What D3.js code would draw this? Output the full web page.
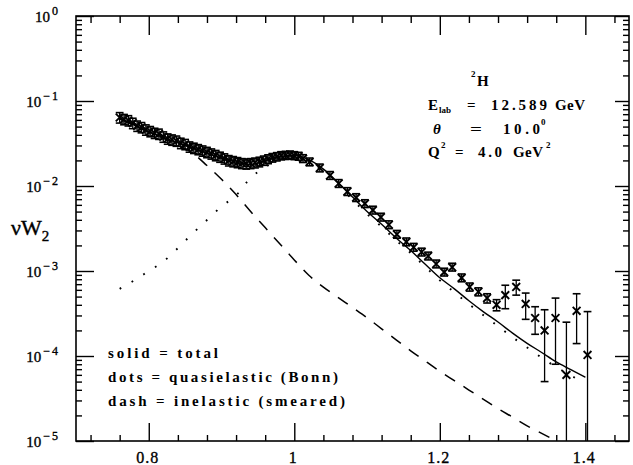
<!DOCTYPE html>
<html>
<head>
<meta charset="utf-8">
<script src="https://cdn.jsdelivr.net/npm/d3@7"></script>
<style>
  html, body { margin: 0; padding: 0; background: #fff; }
  svg { display: block; }
  svg text { font-family: "Liberation Serif", "DejaVu Serif", "Times New Roman", Times, serif; }
</style>
</head>
<body>
<svg id="chart" width="633" height="465"></svg>
<script>
// data points (x, nuW2, error)
const xData = [0.760,0.766,0.772,0.778,0.784,0.790,0.796,0.802,0.808,0.814,0.820,0.826,0.832,0.838,0.844,0.850,0.856,0.862,0.868,0.874,
  0.880,0.886,0.892,0.898,0.904,0.910,0.916,0.922,0.928,0.934,0.940,0.946,0.952,0.958,0.964,0.970,0.976,0.982,0.988,0.994,
  1.000,1.006,1.012,1.021,1.035,1.049,1.061,1.073,1.085,1.097,1.108,1.119,1.130,1.141,1.154,1.164,1.175,1.184,1.195,1.206,
  1.217,1.230,1.241,1.253,1.265,1.278,1.290,1.305,1.318,1.331,1.344,1.359,1.374,1.388,1.403];
const yData = [0.064,0.061,0.059,0.055,0.051,0.049,0.046,0.044,0.042,0.041,0.038,0.036,0.035,0.034,0.032,0.031,0.029,0.028,0.027,0.026,
  0.025,0.024,0.023,0.022,0.021,0.020,0.0195,0.019,0.0185,0.0183,0.0185,0.0188,0.0193,0.020,0.0208,0.0216,0.0222,0.0228,0.023,0.0232,
  0.0228,0.0224,0.021,0.0192,0.0163,0.0133,0.0107,0.0086,0.0073,0.0062,0.0052,0.0043,0.0035,0.0027,0.0022,0.0019,0.00167,0.0015,0.00121,0.00097,
  0.00111,0.00083,0.00065,0.00057,0.00048,0.00040,0.00052,0.00065,0.00041,0.00028,0.00020,0.00028,0.00006,0.00034,0.000103];
const yErr = [0.009,0.0085,0.0082,0.0077,0.0071,0.0068,0.0064,0.0061,0.0058,0.0057,0.0053,0.005,0.0049,0.0047,0.0045,0.0043,0.004,0.0039,0.0037,0.0036,
  0.0035,0.0033,0.0032,0.003,0.0029,0.0028,0.0027,0.0026,0.0025,0.0025,0.0025,0.0025,0.0025,0.0025,0.0025,0.0025,0.0025,0.0025,0.0025,0.0025,
  0.0024,0.0023,0.0021,0.0015,0.0013,0.0011,0.0009,0.0007,0.0006,0.0005,0.00042,0.00035,0.00028,0.00022,0.00018,0.00016,0.00014,0.00013,0.00011,0.00009,
  0.0001,0.00008,0.00007,0.00006,0.00006,0.00006,0.00016,0.00013,0.00014,0.0001,0.00015,0.0002,0.00019,0.0002,0.00023];

// model curves
const curveX = [0.76,0.78,0.80,0.82,0.84,0.86,0.88,0.90,0.92,0.94,0.96,0.98,1.00,1.02,1.04,1.06,1.08,
  1.10,1.12,1.14,1.16,1.18,1.20,1.22,1.24,1.26,1.28,1.30,1.32,1.34,1.36,1.38,1.40];
const totalY = [6.31e-2,5.25e-2,4.37e-2,3.72e-2,3.24e-2,2.82e-2,2.45e-2,2.14e-2,1.91e-2,1.80e-2,2.0e-2,2.24e-2,2.29e-2,2.04e-2,1.58e-2,1.10e-2,7.41e-3,
  5.01e-3,3.55e-3,2.45e-3,1.74e-3,1.20e-3,8.32e-4,6.17e-4,4.47e-4,3.31e-4,2.51e-4,1.86e-4,1.41e-4,1.10e-4,8.51e-5,6.92e-5,5.62e-5];
const quasiY = [6.17e-4,7.76e-4,1.0e-3,1.29e-3,1.86e-3,2.75e-3,3.98e-3,5.75e-3,7.76e-3,1.25e-2,1.66e-2,2.09e-2,2.19e-2,1.91e-2,1.48e-2,1.02e-2,6.92e-3,
  4.68e-3,3.31e-3,2.29e-3,1.62e-3,1.12e-3,7.76e-4,5.62e-4,4.07e-4,3.02e-4,2.24e-4,1.66e-4,1.26e-4,9.55e-5,7.41e-5,5.89e-5,4.79e-5];
const inelY = [6.17e-2,5.13e-2,4.27e-2,3.63e-2,3.02e-2,2.45e-2,1.74e-2,1.20e-2,7.94e-3,5.01e-3,3.24e-3,2.09e-3,1.35e-3,8.91e-4,6.46e-4,4.90e-4,3.72e-4,
  2.82e-4,2.09e-4,1.55e-4,1.15e-4,8.71e-5,6.61e-5,5.13e-5,3.98e-5,3.09e-5,2.40e-5,1.91e-5,1.51e-5,1.23e-5,1.0e-5];

// axes ticks and labels
const xMajor = [0.8, 1.0, 1.2, 1.4];
const xLabels = ["0.8", "1", "1.2", "1.4"];
const xMinor = [0.72,0.76,0.84,0.88,0.92,0.96,1.04,1.08,1.12,1.16,1.24,1.28,1.32,1.36,1.44];
const yMajor = [1e-5, 1e-4, 1e-3, 1e-2, 1e-1, 1];
const yExp = ["\u22125", "\u22124", "\u22123", "\u22122", "\u22121", "0"];

const legendLines = ["solid = total", "dots = quasielastic (Bonn)", "dash = inelastic (smeared)"];

const plot = {left: 76, right: 629, top: 16, bottom: 441};

const svg = d3.select("#chart");
svg.append("rect").attr("width", 633).attr("height", 465).attr("fill", "#fff");

const x = d3.scaleLinear().domain([0.7, 1.46]).range([plot.left, plot.right]);
const y = d3.scaleLog().domain([1e-5, 1]).range([plot.bottom, plot.top]);
const yMinor = y.ticks().filter(v => Math.abs(Math.log10(v) - Math.round(Math.log10(v))) > 1e-6);

svg.append("defs").append("clipPath").attr("id", "clip")
    .append("rect")
    .attr("x", plot.left).attr("y", plot.top)
    .attr("width", plot.right - plot.left).attr("height", plot.bottom - plot.top);

// ticks, all pointing inward
const tickStyle = g => g.call(g => g.select(".domain").remove())
    .call(g => g.selectAll(".tick line").attr("stroke", "#000").attr("stroke-width", 1.4))
    .call(g => g.selectAll(".tick text").remove());

const axes = svg.append("g");
axes.append("g").attr("transform", `translate(0,${plot.bottom})`)
    .call(d3.axisBottom(x).tickValues(xMinor).tickSize(-6).tickSizeOuter(0)).call(tickStyle);
axes.append("g").attr("transform", `translate(0,${plot.bottom})`)
    .call(d3.axisBottom(x).tickValues(xMajor).tickSize(-18).tickSizeOuter(0)).call(tickStyle);
axes.append("g").attr("transform", `translate(0,${plot.top})`)
    .call(d3.axisTop(x).tickValues(xMinor).tickSize(-7).tickSizeOuter(0)).call(tickStyle);
axes.append("g").attr("transform", `translate(0,${plot.top})`)
    .call(d3.axisTop(x).tickValues(xMajor).tickSize(-19).tickSizeOuter(0)).call(tickStyle);
axes.append("g").attr("transform", `translate(${plot.left},0)`)
    .call(d3.axisLeft(y).tickValues(yMinor).tickSize(-6).tickSizeOuter(0)).call(tickStyle);
axes.append("g").attr("transform", `translate(${plot.left},0)`)
    .call(d3.axisLeft(y).tickValues(yMajor).tickSize(-18).tickSizeOuter(0)).call(tickStyle);
axes.append("g").attr("transform", `translate(${plot.right},0)`)
    .call(d3.axisRight(y).tickValues(yMinor).tickSize(-6).tickSizeOuter(0)).call(tickStyle);
axes.append("g").attr("transform", `translate(${plot.right},0)`)
    .call(d3.axisRight(y).tickValues(yMajor).tickSize(-14).tickSizeOuter(0)).call(tickStyle);

svg.append("rect")
    .attr("x", plot.left).attr("y", plot.top)
    .attr("width", plot.right - plot.left).attr("height", plot.bottom - plot.top)
    .attr("fill", "none").attr("stroke", "#000").attr("stroke-width", 1.6);

// tick labels
svg.append("g").selectAll("text")
    .data(xMajor)
    .join("text")
    .attr("x", d => x(d) - 1)
    .attr("y", 463)
    .attr("text-anchor", "middle")
    .attr("font-size", 16)
    .attr("letter-spacing", 1)
    .attr("stroke", "#000").attr("stroke-width", 0.35)
    .text((d, i) => xLabels[i]);

const yl = svg.append("g").attr("stroke", "#000").attr("stroke-width", 0.35);
yMajor.forEach((v, i) => {
    const t = yl.append("text")
        .attr("x", 60).attr("y", y(v) + 6)
        .attr("text-anchor", "end").attr("font-size", 15);
    t.append("tspan").text("10");
    t.append("tspan").attr("dx", 2).attr("dy", -7).attr("font-size", 12)
        .attr("letter-spacing", 2).text(yExp[i]);
});

// y axis title
const yt = svg.append("text").attr("x", 11).attr("y", 235)
    .attr("font-size", 22)
    .attr("stroke", "#000").attr("stroke-width", 0.4);
yt.append("tspan").text("\u03BDW");
yt.append("tspan").attr("dy", 6).attr("font-size", 15).text("2");

// curves
const line = d3.line()
    .x(d => x(d[0]))
    .y(d => y(d[1]))
    .curve(d3.curveMonotoneX);

const curves = svg.append("g").attr("clip-path", "url(#clip)").attr("fill", "none").attr("stroke", "#000");
curves.append("path")
    .attr("d", line(curveX.map((cx, i) => [cx, quasiY[i]])))
    .attr("stroke-width", 1.9)
    .attr("stroke-dasharray", "1.8,12");
curves.append("path")
    .attr("d", line(inelY.map((v, i) => [curveX[i], v])))
    .attr("stroke-width", 1.5)
    .attr("stroke-dasharray", "12,10");
curves.append("path")
    .attr("d", line(curveX.map((cx, i) => [cx, totalY[i]])))
    .attr("stroke-width", 1.4);

// data with error bars
const pts = svg.append("g").attr("clip-path", "url(#clip)")
    .attr("stroke", "#000").attr("fill", "none")
    .selectAll("g")
    .data(xData.map((d, i) => ({x: d, y: yData[i], e: yErr[i]})))
    .join("g")
    .attr("transform", d => `translate(${x(d.x)},${y(d.y)})`);

const s = 3.9;
pts.each(function(d) {
    const g = d3.select(this);
    const yc = y(d.y);
    const hi = Math.min(y(d.y + d.e) - yc, -s);
    const lo = d.y - d.e > 0 ? Math.max(y(d.y - d.e) - yc, s) : plot.bottom + 10 - yc;
    g.append("line").attr("x1", 0).attr("x2", 0).attr("y1", hi).attr("y2", lo).attr("stroke-width", 1.3);
    g.append("line").attr("x1", -s).attr("x2", s).attr("y1", hi).attr("y2", hi).attr("stroke-width", 1.6);
    if (d.y - d.e > 0) {
        g.append("line").attr("x1", -s).attr("x2", s).attr("y1", lo).attr("y2", lo).attr("stroke-width", 1.6);
    }
    g.append("path").attr("d", `M${-s},${-s}L${s},${s}M${-s},${s}L${s},${-s}`).attr("stroke-width", 1.9);
});

// annotation
const ann = svg.append("g").attr("font-weight", "bold").attr("fill", "#000");
ann.append("text").attr("x", 471).attr("y", 77).attr("font-size", 9).text("2");
ann.append("text").attr("x", 477).attr("y", 86).attr("font-size", 15).text("H");

ann.append("text").attr("x", 428).attr("y", 110).attr("font-size", 15).text("E");
ann.append("text").attr("x", 439).attr("y", 113).attr("font-size", 9).text("lab");
ann.append("text").attr("x", 467).attr("y", 110).attr("font-size", 15).text("=");
ann.append("text").attr("x", 491).attr("y", 110).attr("font-size", 15)
    .attr("textLength", 56).attr("lengthAdjust", "spacing").text("12.589");
ann.append("text").attr("x", 555).attr("y", 110).attr("font-size", 15)
    .attr("textLength", 30).attr("lengthAdjust", "spacing").text("GeV");

ann.append("text").attr("x", 433).attr("y", 134).attr("font-size", 15).attr("font-style", "italic").text("\u03B8");
ann.append("text").attr("x", 470).attr("y", 134).attr("font-size", 15)
    .attr("textLength", 12).attr("lengthAdjust", "spacingAndGlyphs").text("=");
ann.append("text").attr("x", 503).attr("y", 134).attr("font-size", 15)
    .attr("textLength", 37).attr("lengthAdjust", "spacing").text("10.0");
ann.append("text").attr("x", 541).attr("y", 125).attr("font-size", 9).text("0");

ann.append("text").attr("x", 428).attr("y", 157).attr("font-size", 15).text("Q");
ann.append("text").attr("x", 441).attr("y", 148).attr("font-size", 9).text("2");
ann.append("text").attr("x", 455).attr("y", 157).attr("font-size", 15).text("=");
ann.append("text").attr("x", 478).attr("y", 157).attr("font-size", 15)
    .attr("textLength", 24).attr("lengthAdjust", "spacing").text("4.0");
ann.append("text").attr("x", 513).attr("y", 157).attr("font-size", 15)
    .attr("textLength", 30).attr("lengthAdjust", "spacing").text("GeV");
ann.append("text").attr("x", 546).attr("y", 148).attr("font-size", 9).text("2");

// legend text
const legendWidths = [110, 230, 237];
svg.append("g").attr("font-weight", "bold").attr("font-size", 15)
    .selectAll("text")
    .data(legendLines)
    .join("text")
    .attr("x", 108)
    .attr("y", (d, i) => 358 + i * 24)
    .attr("textLength", (d, i) => legendWidths[i])
    .attr("lengthAdjust", "spacing")
    .text(d => d);
</script>
</body>
</html>
